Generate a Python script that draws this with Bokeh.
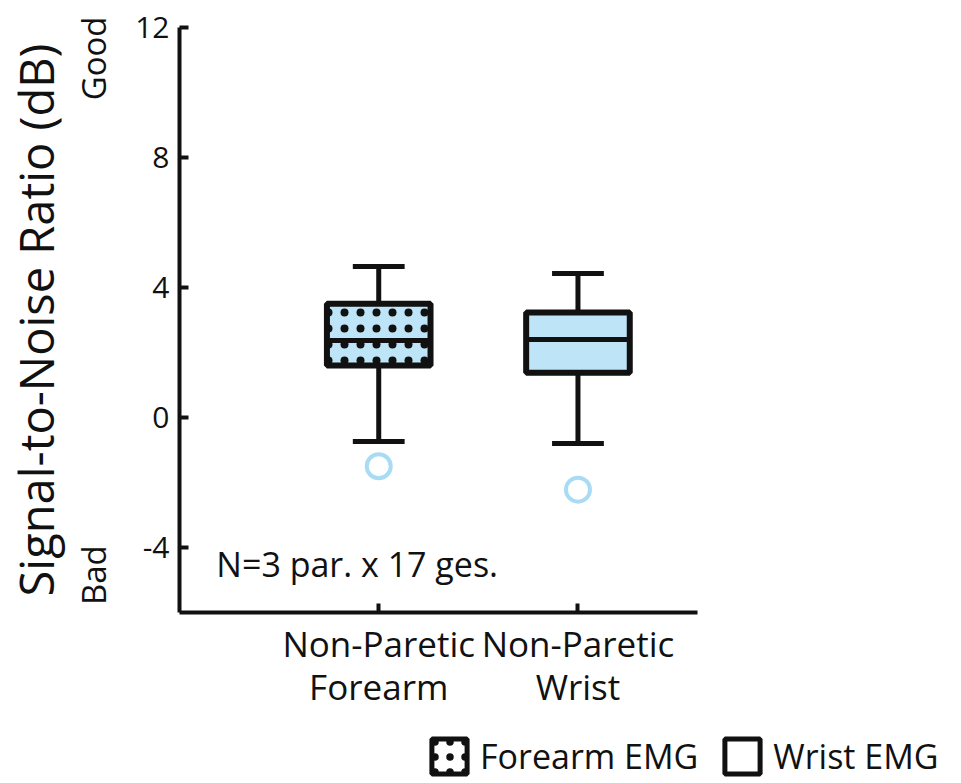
from bokeh.plotting import figure
from bokeh.layouts import column
from bokeh.models import (ColumnDataSource, FixedTicker, Label, Legend, LegendItem, Range1d,
                          LinearAxis)
from bokeh.transform import dodge
from bokeh.embed import file_html
from bokeh.resources import INLINE

# ---- data ----
categories = ["Non-Paretic\nForearm", "Non-Paretic\nWrist"]
positions = [1, 2]
q1 = [1.60, 1.38]
median = [2.37, 2.40]
q3 = [3.50, 3.23]
upper = [4.65, 4.43]
lower = [-0.74, -0.80]
outliers = [-1.50, -2.22]
y_ticks = [-4, 0, 4, 8, 12]
y_tick_labels = ["-4", "0", "4", "8", "12"]
quality_pos = [11.05, -4.85]
quality_labels = ["Good", "Bad"]
legend_labels = ["Forearm EMG", "Wrist EMG"]

FILL = "#BEE5F7"
RING = "#A9DCF4"
INK = "#111111"
FONT = "Open Sans"
W = 958

p = figure(width=W, height=725, output_backend="svg", toolbar_location=None,
           x_range=Range1d(0, 2.6), y_range=Range1d(-6, 12),
           min_border_left=178, min_border_right=W - 697, min_border_top=27,
           min_border_bottom=113, frame_align=False)
p.outline_line_color = None
p.xgrid.visible = False
p.ygrid.visible = False
p.background_fill_color = "white"
p.border_fill_color = "white"

for ax in (p.xaxis[0], p.yaxis[0]):
    ax.axis_line_width = 4
    ax.axis_line_color = INK
    ax.major_tick_line_width = 4
    ax.major_tick_line_color = INK
    ax.major_tick_in = 9
    ax.major_tick_out = 0
    ax.minor_tick_line_color = None
    ax.major_label_text_font = FONT
    ax.major_label_text_color = INK

p.yaxis.ticker = FixedTicker(ticks=y_ticks)
p.yaxis.major_label_overrides = {t: s for t, s in zip(y_ticks, y_tick_labels)}
p.yaxis.major_label_text_font_size = "30px"
p.yaxis.major_label_standoff = 10

# second left axis: Good / Bad markers plus the axis title
qax = LinearAxis(ticker=FixedTicker(ticks=quality_pos),
                 major_label_overrides={t: s for t, s in zip(quality_pos, quality_labels)},
                 major_label_orientation="vertical",
                 axis_line_color=None, major_tick_line_color=None,
                 minor_tick_line_color=None,
                 major_label_text_font=FONT, major_label_text_font_size="33px",
                 major_label_text_color=INK, major_label_standoff=11,
                 axis_label="Signal-to-Noise Ratio (dB)", axis_label_text_font=FONT,
                 axis_label_text_font_size="47px", axis_label_text_font_style="normal",
                 axis_label_text_color=INK, axis_label_standoff=0)
p.add_layout(qax, "left")

p.xaxis.ticker = FixedTicker(ticks=positions)
p.xaxis.major_label_overrides = {pos: lab for pos, lab in zip(positions, categories)}
p.xaxis.major_label_text_font_size = "35px"
p.xaxis.major_label_text_line_height = 0.93
p.xaxis.major_label_standoff = 7

src = ColumnDataSource(dict(x=positions, q1=q1, med=median, q3=q3, up=upper, lo=lower,
                            out=outliers))
bw = 0.52
cw = 0.26

# whiskers
p.segment(x0="x", y0="q3", x1="x", y1="up", source=src, line_color=INK, line_width=5)
p.segment(x0="x", y0="lo", x1="x", y1="q1", source=src, line_color=INK, line_width=5)
# caps
p.segment(x0=dodge("x", -cw / 2), y0="up", x1=dodge("x", cw / 2), y1="up", source=src,
          line_color=INK, line_width=5)
p.segment(x0=dodge("x", -cw / 2), y0="lo", x1=dodge("x", cw / 2), y1="lo", source=src,
          line_color=INK, line_width=5)

# boxes
fore = ColumnDataSource(dict(x=positions[:1], q1=q1[:1], q3=q3[:1]))
wri = ColumnDataSource(dict(x=positions[1:], q1=q1[1:], q3=q3[1:]))
p.vbar(x="x", bottom="q1", top="q3", width=bw, source=fore, fill_color=FILL,
       line_color=INK, line_width=6, hatch_pattern="dot", hatch_color=INK,
       hatch_scale=16, hatch_weight=3)
p.vbar(x="x", bottom="q1", top="q3", width=bw, source=wri, fill_color=FILL,
       line_color=INK, line_width=6)
# medians
p.segment(x0=dodge("x", -bw / 2), y0="med", x1=dodge("x", bw / 2), y1="med", source=src,
          line_color=INK, line_width=5)
# outliers
p.scatter(x="x", y="out", source=src, marker="circle", size=24, fill_color=None,
          line_color=RING, line_width=4)

# annotation text
p.add_layout(Label(x=0.185, y=-4.5, text="N=3 par. x 17 ges.", text_font=FONT,
                   text_font_size="34px", text_color=INK, text_baseline="middle"))

# ---- legend strip below the chart ----
leg = figure(width=W, height=58, output_backend="svg", toolbar_location=None,
             x_range=Range1d(0, 10), y_range=Range1d(0, 10),
             min_border=0, min_border_left=0, min_border_right=0,
             min_border_top=0, min_border_bottom=0, frame_align=False)
leg.axis.visible = False
leg.xgrid.visible = False
leg.ygrid.visible = False
leg.outline_line_color = None
# swatch renderers kept outside the visible range; only their legend icons show
hidden = ColumnDataSource(dict(x=[-100], y=[-100]))
r_f = leg.rect(x="x", y="y", width=1, height=1, source=hidden, fill_color="white",
               line_color=INK, line_width=5, hatch_pattern="dot", hatch_color=INK,
               hatch_scale=15, hatch_weight=3)
r_w = leg.rect(x="x", y="y", width=1, height=1, source=hidden, fill_color="white",
               line_color=INK, line_width=5)
legend = Legend(items=[LegendItem(label=legend_labels[0], renderers=[r_f]),
                       LegendItem(label=legend_labels[1], renderers=[r_w])],
                orientation="horizontal", location=(427, 4),
                glyph_width=44, glyph_height=44, label_standoff=9, spacing=22,
                padding=0, margin=0, border_line_color=None, background_fill_alpha=0,
                label_text_font=FONT, label_text_font_size="34px", label_text_color=INK,
                label_height=44)
leg.add_layout(legend, "center")

layout = column(p, leg, spacing=0)
open("out.html", "w").write(file_html(layout, INLINE))
